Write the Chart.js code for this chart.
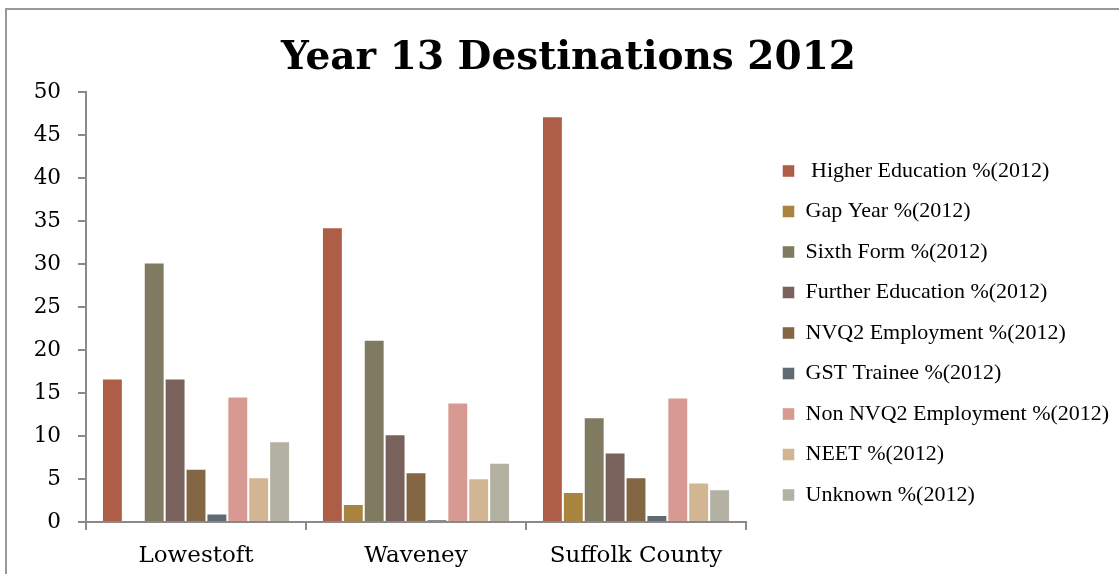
<!DOCTYPE html>
<html>
<head>
<meta charset="utf-8">
<script src="https://cdn.jsdelivr.net/npm/chart.js@4.4.1/dist/chart.umd.min.js"></script>
<style>
    html, body { margin: 0; padding: 0; background: #fff; overflow: hidden; }
    .frame {
        position: absolute;
        left: 5px;
        top: 8px;
        width: 1200px;
        height: 700px;
        border-left: 2px solid #999;
        border-top: 2px solid #999;
    }
    .wrap { position: absolute; left: 0; top: 0; width: 1119px; height: 574px; }
</style>
</head>
<body>
<div class="frame"></div>
<div class="wrap"><canvas id="chart" width="1119" height="574"></canvas></div>
<script>
const categories = ['Lowestoft', 'Waveney', 'Suffolk County'];

const seriesNames = [
    ' Higher Education %(2012)',
    'Gap Year %(2012)',
    'Sixth Form %(2012)',
    'Further Education %(2012)',
    'NVQ2 Employment %(2012)',
    'GST Trainee %(2012)',
    'Non NVQ2 Employment %(2012)',
    'NEET %(2012)',
    'Unknown %(2012)'
];

// one array per series, in category order
const higherEducation = [16.7, 34.3, 47.2];
const gapYear = [0, 2.1, 3.5];
const sixthForm = [30.2, 21.2, 12.2];
const furtherEducation = [16.7, 10.2, 8.1];
const nvq2Employment = [6.2, 5.8, 5.2];
const gstTrainee = [1.0, 0.3, 0.8];
const nonNvq2Employment = [14.6, 13.9, 14.5];
const neet = [5.2, 5.1, 4.6];
const unknown = [9.4, 6.9, 3.8];

const yTicks = [0, 5, 10, 15, 20, 25, 30, 35, 40, 45, 50];

const seriesColors = ['#ae5e47', '#a8843f', '#807a60', '#78625b', '#836644',
    '#5f6a71', '#d69a93', '#d2b592', '#b3b1a1'];

const seriesData = [higherEducation, gapYear, sixthForm, furtherEducation,
    nvq2Employment, gstTrainee, nonNvq2Employment, neet, unknown];

const serif = "'DejaVu Serif', serif";
const legendFont = "'Liberation Serif', serif";
const axisGrey = '#8a8a8a';

const datasets = seriesNames.map(function (name, i) {
    return {
        label: name,
        data: seriesData[i],
        backgroundColor: seriesColors[i],
        borderColor: 'rgba(255,255,255,0.45)',
        borderWidth: 1,
        borderSkipped: 'bottom',
        categoryPercentage: 0.855,
        barPercentage: 1.0
    };
});

const ctx = document.getElementById('chart').getContext('2d');
const chart = new Chart(ctx, {
    type: 'bar',
    data: {
        labels: categories,
        datasets: datasets
    },
    options: {
        responsive: false,
        animation: false,
        layout: {
            padding: { left: 18, right: 0, top: 0, bottom: 0 }
        },
        plugins: {
            title: {
                display: true,
                text: 'Year 13 Destinations 2012',
                color: '#000',
                font: { family: serif, size: 39, weight: 'bold' },
                padding: { top: 35, bottom: 10.5 }
            },
            legend: {
                position: 'right',
                align: 'center',
                maxWidth: 355,
                // empty title only pushes the rows down a bit
                title: {
                    display: true,
                    text: '',
                    font: { size: 12, lineHeight: 1.2 },
                    padding: 38.8
                },
                labels: {
                    color: '#000',
                    font: { family: legendFont, size: 22 },
                    boxWidth: 12,
                    boxHeight: 12,
                    padding: 18.5
                }
            },
            tooltip: { enabled: false }
        },
        scales: {
            x: {
                afterFit: function (scale) {
                    scale.height = 52;
                },
                grid: {
                    display: true,
                    drawOnChartArea: false,
                    drawTicks: true,
                    tickLength: 8,
                    color: axisGrey,
                    lineWidth: 2,
                    offset: true
                },
                border: { display: true, color: axisGrey, width: 2 },
                ticks: {
                    color: '#000',
                    font: { family: serif, size: 23 },
                    padding: 12
                }
            },
            y: {
                min: 0,
                max: 50,
                afterBuildTicks: function (scale) {
                    scale.ticks = yTicks.map(function (v) { return { value: v }; });
                },
                afterFit: function (scale) {
                    scale.width = 68;
                },
                grid: {
                    display: true,
                    drawOnChartArea: false,
                    drawTicks: true,
                    tickLength: 8,
                    color: axisGrey,
                    lineWidth: 2
                },
                border: { display: true, color: axisGrey, width: 2 },
                ticks: {
                    color: '#000',
                    font: { family: serif, size: 21.5 },
                    padding: 17
                }
            },
            // blank spacer between plot and legend
            gap: {
                type: 'linear',
                position: 'right',
                display: true,
                grid: { display: false },
                border: { display: false },
                ticks: { display: false },
                afterFit: function (scale) {
                    scale.width = 18;
                }
            }
        }
    }
});
</script>
</body>
</html>
